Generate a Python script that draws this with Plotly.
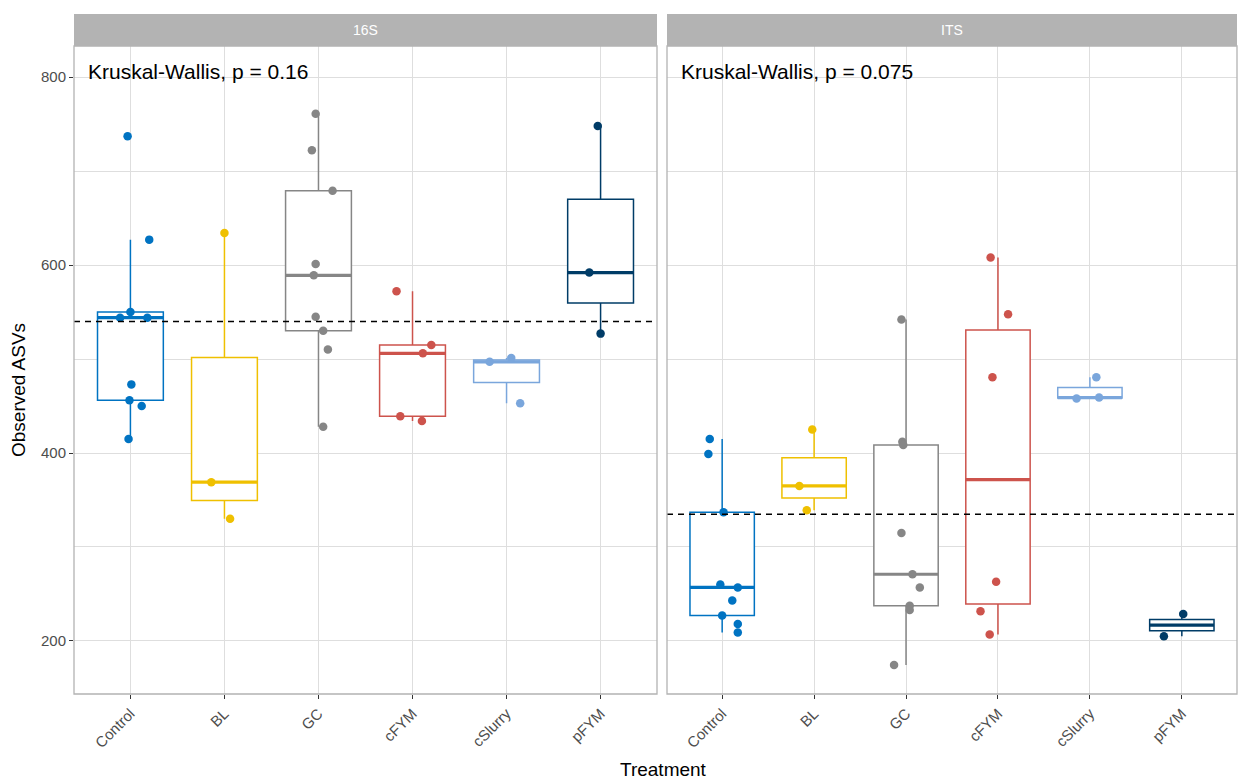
import numpy as np
import plotly.graph_objects as go

# ---- data -----------------------------------------------------------------
treatments = ["Control", "BL", "GC", "cFYM", "cSlurry", "pFYM"]
colors = ["#0073C2", "#EFC000", "#868686", "#CD534C", "#7AA6DC", "#003C67"]

# Observed ASVs per sample, 16S
asv_16s_control = [737, 627, 550, 544, 544, 473, 456, 450, 415]
asv_16s_bl = [634, 369, 330]
asv_16s_gc = [761, 722, 679, 601, 589, 545, 530, 510, 428]
asv_16s_cfym = [572, 515, 506, 439, 434]
asv_16s_cslurry = [497, 501, 453]
asv_16s_pfym = [748, 592, 527]

# Observed ASVs per sample, ITS
asv_its_control = [415, 399, 337, 260, 257, 243, 227, 218, 209]
asv_its_bl = [425, 365, 339]
asv_its_gc = [542, 412, 408.5, 315, 271, 257, 237.6, 233, 174.5]
asv_its_cfym = [608, 547.5, 480.5, 263, 231.6, 207]
asv_its_cslurry = [480.5, 458, 459]
asv_its_pfym = [228.7, 205]

# horizontal jitter of each sample point (category units)
jit_16s = [
    [-0.03, 0.2, 0.0, -0.11, 0.18, 0.01, -0.01, 0.12, -0.02],
    [0.0, -0.14, 0.06],
    [-0.03, -0.07, 0.15, -0.03, -0.05, -0.03, 0.05, 0.1, 0.05],
    [-0.17, 0.2, 0.11, -0.13, 0.1],
    [-0.18, 0.05, 0.145],
    [-0.03, -0.12, 0.0],
]
jit_its = [
    [-0.135, -0.15, 0.015, -0.02, 0.17, 0.11, 0.0, 0.17, 0.17],
    [-0.02, -0.16, -0.08],
    [-0.05, -0.04, -0.03, -0.05, 0.07, 0.15, 0.04, 0.04, -0.13],
    [-0.08, 0.11, -0.06, -0.02, -0.19, -0.09],
    [0.07, -0.145, 0.1],
    [0.015, -0.195],
]

panels = [
    ("16S", [asv_16s_control, asv_16s_bl, asv_16s_gc, asv_16s_cfym,
             asv_16s_cslurry, asv_16s_pfym], jit_16s, "0.16"),
    ("ITS", [asv_its_control, asv_its_bl, asv_its_gc, asv_its_cfym,
             asv_its_cslurry, asv_its_pfym], jit_its, "0.075"),
]

# ---- layout constants ------------------------------------------------------
W, H = 1238, 779
ML, MR, MT, MB = 74, 1, 46, 85
plot_w = W - ML - MR
plot_h = H - MT - MB
dom_left = [0, (657 - ML) / plot_w]
dom_right = [(667 - ML) / plot_w, 1]
strip_h = 32 / plot_h
box_w = 0.7
grid = "#DEDEDE"
border = "#B3B3B3"
font_family = "Liberation Sans, Arial, sans-serif"

fig = go.Figure()
shapes = []
annotations = []

for p, (name, groups, jits, pval) in enumerate(panels):
    xa = "x" if p == 0 else "x2"
    ya = "y" if p == 0 else "y2"
    for i, vals in enumerate(groups):
        v = np.asarray(vals, dtype=float)
        q1, med, q3 = np.percentile(v, [25, 50, 75])
        iqr = q3 - q1
        lo = v[v >= q1 - 1.5 * iqr].min()
        hi = v[v <= q3 + 1.5 * iqr].max()
        fig.add_trace(go.Box(
            x=[i], q1=[q1], median=[med], q3=[q3],
            lowerfence=[lo], upperfence=[hi],
            width=box_w, whiskerwidth=0, boxpoints=False,
            fillcolor="white", line=dict(color=colors[i], width=1.5),
            xaxis=xa, yaxis=ya, showlegend=False, hoverinfo="skip",
        ))
        # thicker median bar
        fig.add_trace(go.Scatter(
            x=[i - box_w / 2, i + box_w / 2], y=[med, med], mode="lines",
            line=dict(color=colors[i], width=3.2),
            xaxis=xa, yaxis=ya, showlegend=False, hoverinfo="skip",
        ))
    for i, vals in enumerate(groups):
        fig.add_trace(go.Scatter(
            x=[i + j for j in jits[i]], y=vals, mode="markers",
            marker=dict(color=colors[i], size=8.5, line=dict(width=0)),
            xaxis=xa, yaxis=ya, showlegend=False,
        ))

    # overall mean reference line
    all_vals = np.concatenate([np.asarray(g, dtype=float) for g in groups])
    shapes.append(dict(
        type="line", xref=f"{xa} domain", yref=ya, x0=0, x1=1,
        y0=all_vals.mean(), y1=all_vals.mean(),
        line=dict(color="black", width=1.5, dash="6px,5px"), layer="above",
    ))
    # panel border
    shapes.append(dict(
        type="rect", xref=f"{xa} domain", yref=f"{ya} domain",
        x0=0, x1=1, y0=0, y1=1, line=dict(color=border, width=1.3),
        layer="above",
    ))
    # facet strip
    shapes.append(dict(
        type="rect", xref=f"{xa} domain", yref="paper",
        x0=0, x1=1, y0=1, y1=1 + strip_h, fillcolor=border,
        line=dict(width=0), layer="above",
    ))
    annotations.append(dict(
        text=name, xref=f"{xa} domain", yref="paper", x=0.5,
        y=1 + strip_h / 2, showarrow=False, xanchor="center",
        yanchor="middle", font=dict(color="white", size=14, family=font_family),
    ))
    annotations.append(dict(
        text=f"Kruskal-Wallis, p = {pval}", xref=f"{xa} domain",
        yref=f"{ya} domain", x=12 / 583, y=(694 - 71.5) / plot_h,
        xanchor="left", yanchor="middle", showarrow=False,
        font=dict(color="black", size=21, family=font_family),
    ))

annotations.append(dict(
    text="Observed ASVs", xref="paper", yref="paper",
    x=(18 - ML) / plot_w, y=(694 - 390) / plot_h, textangle=-90,
    xanchor="center", yanchor="middle", showarrow=False,
    font=dict(color="black", size=19, family=font_family),
))
annotations.append(dict(
    text="Treatment", xref="paper", yref="paper",
    x=(663 - ML) / plot_w, y=-(769 - 694) / plot_h,
    xanchor="center", yanchor="middle", showarrow=False,
    font=dict(color="black", size=19, family=font_family),
))

xaxis_common = dict(
    range=[-0.6, 5.6], tickmode="array", tickvals=list(range(len(treatments))),
    ticktext=treatments, tickangle=-45, showgrid=True, gridcolor=grid,
    gridwidth=1, zeroline=False, ticks="outside", ticklen=4, tickwidth=1,
    tickcolor="#333333", showline=False,
    tickfont=dict(size=15, color="#4D4D4D", family=font_family),
)
yaxis_common = dict(
    range=[143.6, 833], tickmode="linear", tick0=0, dtick=200,
    showgrid=True, gridcolor=grid, gridwidth=1, zeroline=False,
    minor=dict(dtick=100, tick0=0, showgrid=True, gridcolor=grid, gridwidth=1),
    showline=False,
)

fig.update_layout(
    width=W, height=H,
    margin=dict(l=ML, r=MR, t=MT, b=MB),
    paper_bgcolor="white", plot_bgcolor="white",
    font=dict(family=font_family),
    xaxis=dict(domain=dom_left, anchor="y", **xaxis_common),
    xaxis2=dict(domain=dom_right, anchor="y2", **xaxis_common),
    yaxis=dict(anchor="x", ticks="outside", ticklen=4, tickwidth=1,
               tickcolor="#333333",
               tickfont=dict(size=15, color="#4D4D4D", family=font_family),
               **yaxis_common),
    yaxis2=dict(anchor="x2", matches="y", showticklabels=False, ticks="",
                **yaxis_common),
    shapes=shapes, annotations=annotations,
    showlegend=False,
)

fig.write_html("out.html")
